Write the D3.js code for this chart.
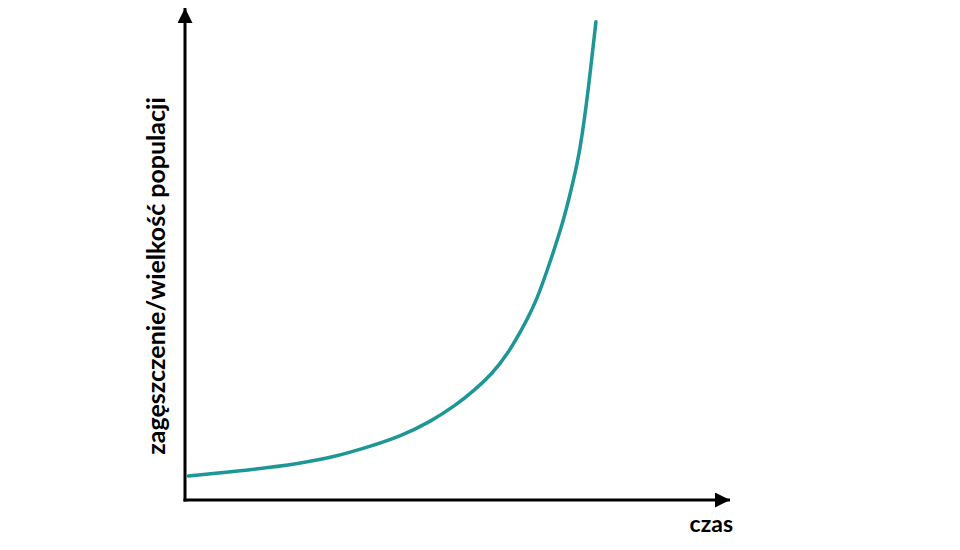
<!DOCTYPE html>
<html>
<head>
<meta charset="utf-8">
<script src="https://cdn.jsdelivr.net/npm/d3@7"></script>
<style>
  body { margin: 0; background: #fff; }
  svg text { font-family: Lato, "Open Sans", sans-serif; font-weight: bold; fill: #000; }
</style>
</head>
<body>
<script>
// curve samples (time, population), both in 0-100 units
const times  = [0.6, 11.9, 21.1, 27.5, 33.4, 39.5, 45.0, 49.5, 53.2, 56.3, 59.1, 62.0, 64.6, 67.0, 69.4, 71.2, 72.5, 73.9, 75.4];
const values = [4.9, 6.1, 7.4, 8.8, 10.7, 12.9, 15.9, 19.1, 22.4, 25.6, 29.5, 35.0, 40.7, 48.4, 56.5, 64.6, 71.1, 82.3, 97.2];

const xLabel = 'czas';
const yLabel = 'zagęszczenie/wielkość populacji';

const W = 960, H = 550;
const margin = {left: 185, right: 230, top: 8, bottom: 50};

const svg = d3.select('body').append('svg')
    .attr('width', W)
    .attr('height', H);

const x = d3.scaleLinear().domain([0, 100]).range([margin.left, W - margin.right]);
const y = d3.scaleLinear().domain([0, 100]).range([H - margin.bottom, margin.top]);

// arrow heads
const defs = svg.append('defs');
defs.append('marker')
    .attr('id', 'arrow')
    .attr('viewBox', '0 0 10 10')
    .attr('refX', 10)
    .attr('refY', 5)
    .attr('markerUnits', 'userSpaceOnUse')
    .attr('markerWidth', 17)
    .attr('markerHeight', 15)
    .attr('orient', 'auto')
  .append('path')
    .attr('d', 'M0,0L10,5L0,10Z')
    .attr('fill', '#000');

// axes
svg.append('line')
    .attr('x1', x(0)).attr('y1', y(0) + 1.5)
    .attr('x2', x(0)).attr('y2', y(100))
    .attr('stroke', '#000')
    .attr('stroke-width', 3)
    .attr('marker-end', 'url(#arrow)');

svg.append('line')
    .attr('x1', x(0) - 1.5).attr('y1', y(0))
    .attr('x2', x(100)).attr('y2', y(0))
    .attr('stroke', '#000')
    .attr('stroke-width', 3)
    .attr('marker-end', 'url(#arrow)');

// growth curve
const pts = times.map((t, i) => [t, values[i]]);
const line = d3.line()
    .x(d => x(d[0]))
    .y(d => y(d[1]))
    .curve(d3.curveBasis);

svg.append('path')
    .datum(pts)
    .attr('d', line)
    .attr('fill', 'none')
    .attr('stroke', '#1e9696')
    .attr('stroke-width', 3.5)
    .attr('stroke-linecap', 'round');

// labels
svg.append('text')
    .attr('x', x(100) + 3)
    .attr('y', y(0) + 32)
    .attr('text-anchor', 'end')
    .attr('font-size', 23)
    .text(xLabel);

svg.append('text')
    .attr('transform', `translate(${x(0) - 20},${(y(0) + y(100)) / 2 + 22}) rotate(-90)`)
    .attr('text-anchor', 'middle')
    .attr('font-size', 25)
    .text(yLabel);
</script>
</body>
</html>
